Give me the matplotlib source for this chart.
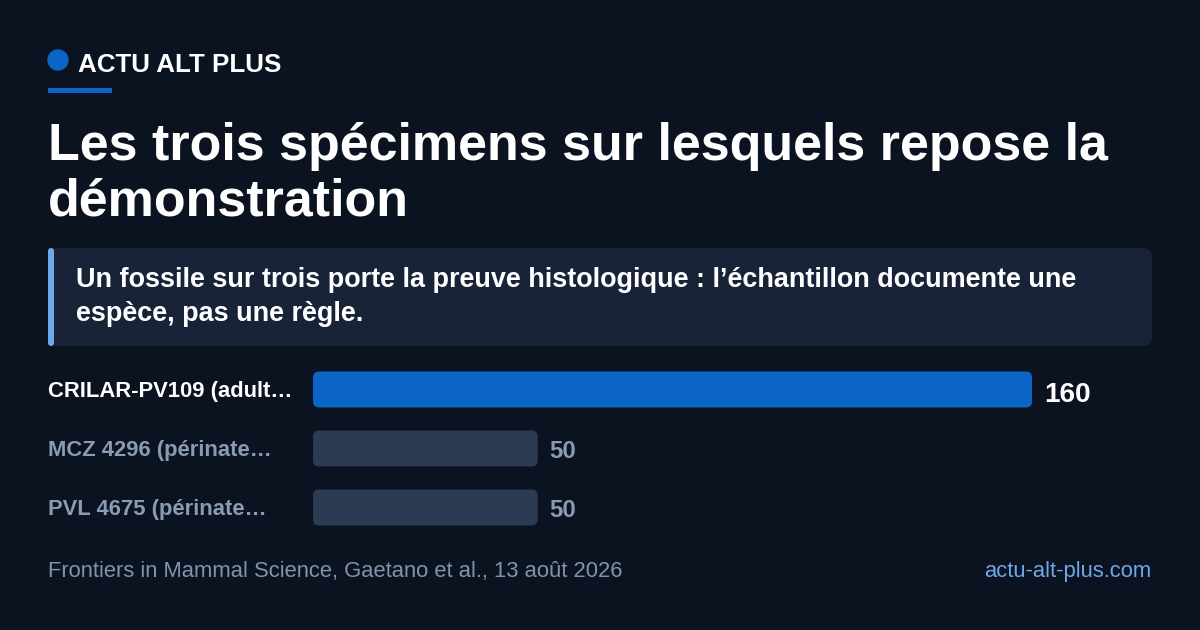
import matplotlib
matplotlib.use("Agg")
import matplotlib.pyplot as plt
from matplotlib import transforms
from matplotlib.patches import FancyBboxPatch, Circle, Rectangle

# chart data
labels = ["CRILAR-PV109 (adult\u2026", "MCZ 4296 (p\u00e9rinate\u2026", "PVL 4675 (p\u00e9rinate\u2026"]
values = [160, 50, 50]
highlight = [True, False, False]

brand = "ACTU ALT PLUS"
title_lines = ["Les trois sp\u00e9cimens sur lesquels repose la", "d\u00e9monstration"]
subtitle_lines = ["Un fossile sur trois porte la preuve histologique : l\u2019\u00e9chantillon documente une",
                  "esp\u00e8ce, pas une r\u00e8gle."]
source = "Frontiers in Mammal Science, Gaetano et al., 13 ao\u00fbt 2026"
site = "actu-alt-plus.com"

BG = "#0b1220"
BOX = "#182338"
ACCENT = "#6ea8e8"
BLUE = "#0b65c4"
GREY_BAR = "#2c3b54"
GREY_TXT = "#8a9bb4"
WHITE = "#ffffff"

plt.rcParams["font.family"] = ["Liberation Sans", "DejaVu Sans"]

W, H = 1200, 630
fig = plt.figure(figsize=(W / 100, H / 100), dpi=100, facecolor=BG)


def pt(px):
    return px * 0.72


# background axes in pixel units
bg = fig.add_axes([0, 0, 1, 1])
bg.set_xlim(0, W)
bg.set_ylim(H, 0)
bg.axis("off")
bg.set_facecolor(BG)

# brand line
bg.add_patch(Circle((58, 60), 10, color=BLUE))
bg.text(78, 72, brand, fontsize=pt(26), fontweight="bold", color=WHITE, va="baseline", ha="left")
bg.add_patch(Rectangle((48, 88), 64, 5, color=BLUE, lw=0))

# title
bg.text(48, 160, title_lines[0], fontsize=pt(52), fontweight="bold", color=WHITE, va="baseline")
bg.text(48, 215, title_lines[1], fontsize=pt(52), fontweight="bold", color=WHITE, va="baseline")

# callout box
bg.add_patch(FancyBboxPatch((48, 248), 1104, 98, boxstyle="round,pad=0,rounding_size=9",
                            fc=BOX, ec="none"))
bg.add_patch(FancyBboxPatch((48, 248), 6, 98, boxstyle="round,pad=0,rounding_size=3",
                            fc=ACCENT, ec="none"))
bg.text(76, 287, subtitle_lines[0], fontsize=pt(27), fontweight="bold", color=WHITE, va="baseline")
bg.text(76, 321, subtitle_lines[1], fontsize=pt(27), fontweight="bold", color=WHITE, va="baseline")

# bar axes: x=0 at px 313, x=160 at px 1032; rows 59 px apart
x0, x1 = 313, 1032
top, bot = 360, 537
ax = fig.add_axes([x0 / W, (H - bot) / H, (x1 - x0) / W, (bot - top) / H])
ax.set_xlim(0, 160)
ax.set_ylim(len(values) - 0.5, -0.5)
ax.axis("off")
ax.patch.set_alpha(0)

px_per_x = (x1 - x0) / 160
px_per_y = (bot - top) / len(values)
bar_h = 36 / px_per_y
radius = 6 / px_per_x
aspect = px_per_x / px_per_y

lbl_tr = transforms.blended_transform_factory(bg.transData, ax.transData)

for i, (lab, v, hl) in enumerate(zip(labels, values, highlight)):
    ax.add_patch(FancyBboxPatch((0, i - bar_h / 2), v, bar_h,
                                boxstyle=f"round,pad=0,rounding_size={radius}",
                                mutation_aspect=aspect,
                                fc=BLUE if hl else GREY_BAR, ec="none"))
    ax.annotate(str(v), (v, i), xytext=(pt(12), -pt(12 if hl else 9.5)), textcoords="offset points",
                fontsize=pt(28 if hl else 24), fontweight="bold",
                color=WHITE if hl else GREY_TXT, va="baseline", ha="left")
    ax.annotate(lab, (48, i), xycoords=lbl_tr, xytext=(0, -pt(7.5)), textcoords="offset points",
                fontsize=pt(22), fontweight="bold",
                color=WHITE if hl else GREY_TXT, va="baseline", ha="left")

# footer
bg.text(48, 577, source, fontsize=pt(22), color="#8293ad", va="baseline", ha="left")
bg.text(1151, 577, site, fontsize=pt(22), color=ACCENT, va="baseline", ha="right")

fig.savefig("out.png", dpi=100, facecolor=BG)
